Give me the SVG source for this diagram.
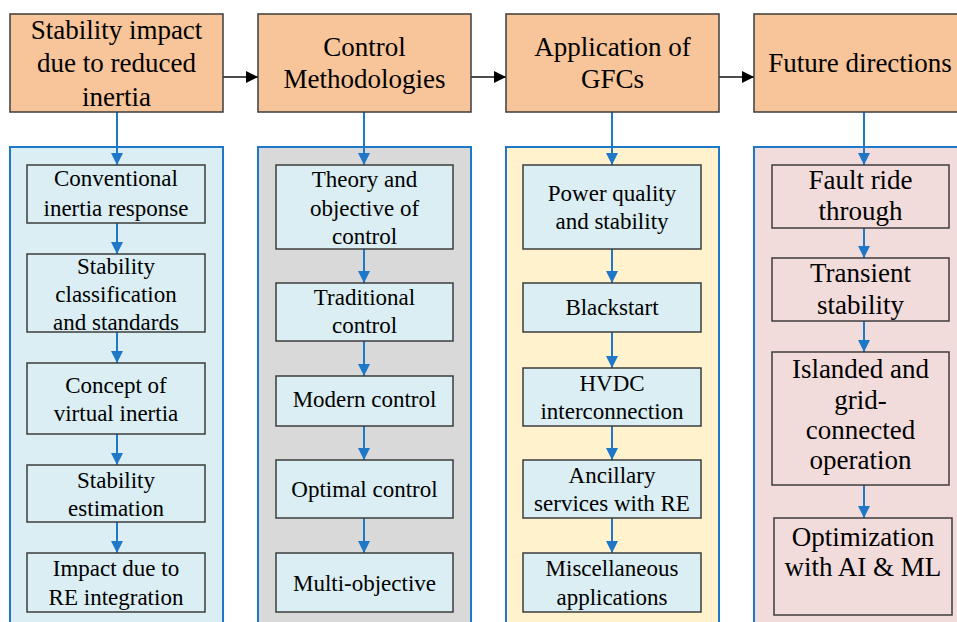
<svg xmlns="http://www.w3.org/2000/svg" width="957" height="622" viewBox="0 0 957 622" font-family="'Liberation Serif', 'Times New Roman', serif">
<defs>
<marker id="ab" viewBox="0 0 10 10" refX="10" refY="5" markerWidth="12" markerHeight="12" markerUnits="userSpaceOnUse" orient="auto"><path d="M0,0 L10,5 L0,10 z" fill="#1f77c8"/></marker>
<marker id="ak" viewBox="0 0 10 10" refX="10" refY="5" markerWidth="12" markerHeight="12" markerUnits="userSpaceOnUse" orient="auto"><path d="M0,0 L10,5 L0,10 z" fill="#000"/></marker>
</defs>
<style>
.title{fill:#f8c499;stroke:#3c3c3c;stroke-width:1.5}
.panel{stroke:#1f77c8;stroke-width:2}
.box{fill:#daeef3;stroke:#3c3c3c;stroke-width:1.5}
.pbox{fill:#f2dcdb;stroke:#3c3c3c;stroke-width:1.5}
text{font-family:'Liberation Serif', 'Times New Roman', serif;fill:#000;text-anchor:middle}
.t{font-size:27px}
.s{font-size:23px}
.b{font-size:27px}
.blue{stroke:#1f77c8;stroke-width:2;fill:none;marker-end:url(#ab)}
.blk{stroke:#111;stroke-width:1.5;fill:none;marker-end:url(#ak)}
</style>
<rect width="957" height="622" fill="#fff"/>
<g id="panels">
<rect class="panel" x="10" y="147" width="213" height="490" fill="#daeef3"/>
<rect class="panel" x="258" y="147" width="213" height="490" fill="#d9d9d9"/>
<rect class="panel" x="506" y="147" width="213" height="490" fill="#fff2cc"/>
<rect class="panel" x="754" y="147" width="213" height="490" fill="#f2dcdb"/>
</g>
<g id="connectors">
<line class="blk" x1="223" y1="77" x2="258" y2="77"/>
<line class="blk" x1="471" y1="77" x2="506" y2="77"/>
<line class="blk" x1="719" y1="77" x2="754" y2="77"/>
<line class="blue" x1="117" y1="112" x2="117" y2="165"/>
<line class="blue" x1="364" y1="112" x2="364" y2="165"/>
<line class="blue" x1="612" y1="112" x2="612" y2="165"/>
<line class="blue" x1="864" y1="112" x2="864" y2="165"/>
<line class="blue" x1="117" y1="223" x2="117" y2="254"/>
<line class="blue" x1="117" y1="332" x2="117" y2="363"/>
<line class="blue" x1="117" y1="434" x2="117" y2="465"/>
<line class="blue" x1="117" y1="522" x2="117" y2="553"/>
<line class="blue" x1="364" y1="249" x2="364" y2="283"/>
<line class="blue" x1="364" y1="341" x2="364" y2="376"/>
<line class="blue" x1="364" y1="426" x2="364" y2="460"/>
<line class="blue" x1="364" y1="518" x2="364" y2="553"/>
<line class="blue" x1="612" y1="249" x2="612" y2="283"/>
<line class="blue" x1="612" y1="332" x2="612" y2="368"/>
<line class="blue" x1="612" y1="426" x2="612" y2="460"/>
<line class="blue" x1="612" y1="518" x2="612" y2="553"/>
<line class="blue" x1="864" y1="228" x2="864" y2="258"/>
<line class="blue" x1="864" y1="321" x2="864" y2="352"/>
<line class="blue" x1="864" y1="485" x2="864" y2="518"/>
</g>
<g id="h1"><rect class="title" x="10" y="14" width="213" height="98"/><text class="t" x="116.5" y="39">Stability impact</text><text class="t" x="116.5" y="72">due to reduced</text><text class="t" x="116.5" y="106">inertia</text></g>
<g id="h2"><rect class="title" x="258" y="14" width="213" height="98"/><text class="t" x="364.5" y="56">Control</text><text class="t" x="364.5" y="88">Methodologies</text></g>
<g id="h3"><rect class="title" x="506" y="14" width="213" height="98"/><text class="t" x="612.5" y="56">Application of</text><text class="t" x="612.5" y="88">GFCs</text></g>
<g id="h4"><rect class="title" x="754" y="14" width="213" height="98"/><text class="t" x="860" y="72">Future directions</text></g>

<g id="a1"><rect class="box" x="27" y="165" width="178" height="58"/><text class="s" x="116" y="186">Conventional</text><text class="s" x="116" y="216">inertia response</text></g>
<g id="a2"><rect class="box" x="27" y="254" width="178" height="78"/><text class="s" x="116" y="274">Stability</text><text class="s" x="116" y="302">classification</text><text class="s" x="116" y="330">and standards</text></g>
<g id="a3"><rect class="box" x="27" y="363" width="178" height="71"/><text class="s" x="116" y="393">Concept of</text><text class="s" x="116" y="421">virtual inertia</text></g>
<g id="a4"><rect class="box" x="27" y="465" width="178" height="57"/><text class="s" x="116" y="488">Stability</text><text class="s" x="116" y="516">estimation</text></g>
<g id="a5"><rect class="box" x="27" y="553" width="178" height="59"/><text class="s" x="116" y="576">Impact due to</text><text class="s" x="116" y="605">RE integration</text></g>

<g id="b1"><rect class="box" x="276" y="165" width="177" height="84"/><text class="s" x="364.5" y="187">Theory and</text><text class="s" x="364.5" y="216">objective of</text><text class="s" x="364.5" y="244">control</text></g>
<g id="b2"><rect class="box" x="276" y="283" width="177" height="58"/><text class="s" x="364.5" y="305">Traditional</text><text class="s" x="364.5" y="333">control</text></g>
<g id="b3"><rect class="box" x="276" y="376" width="177" height="50"/><text class="s" x="364.5" y="407">Modern control</text></g>
<g id="b4"><rect class="box" x="276" y="460" width="177" height="58"/><text class="s" x="364.5" y="497">Optimal control</text></g>
<g id="b5"><rect class="box" x="276" y="553" width="177" height="59"/><text class="s" x="364.5" y="591">Multi-objective</text></g>

<g id="c1"><rect class="box" x="523" y="165" width="178" height="84"/><text class="s" x="612" y="201">Power quality</text><text class="s" x="612" y="229">and stability</text></g>
<g id="c2"><rect class="box" x="523" y="283" width="178" height="49"/><text class="s" x="612" y="315">Blackstart</text></g>
<g id="c3"><rect class="box" x="523" y="368" width="178" height="58"/><text class="s" x="612" y="391">HVDC</text><text class="s" x="612" y="419">interconnection</text></g>
<g id="c4"><rect class="box" x="523" y="460" width="178" height="58"/><text class="s" x="612" y="483">Ancillary</text><text class="s" x="612" y="511">services with RE</text></g>
<g id="c5"><rect class="box" x="523" y="553" width="178" height="59"/><text class="s" x="612" y="576">Miscellaneous</text><text class="s" x="612" y="605">applications</text></g>

<g id="d1"><rect class="pbox" x="772" y="165" width="177" height="63"/><text class="b" x="860.5" y="189">Fault ride</text><text class="b" x="860.5" y="220">through</text></g>
<g id="d2"><rect class="pbox" x="772" y="258" width="177" height="63"/><text class="b" x="860.5" y="282">Transient</text><text class="b" x="860.5" y="314">stability</text></g>
<g id="d3"><rect class="pbox" x="772" y="352" width="177" height="133"/><text class="b" x="860.5" y="378">Islanded and</text><text class="b" x="860.5" y="409">grid-</text><text class="b" x="860.5" y="439">connected</text><text class="b" x="860.5" y="469">operation</text></g>
<g id="d4"><rect class="pbox" x="774" y="518" width="178" height="97"/><text class="b" x="863" y="546">Optimization</text><text class="b" x="863" y="576">with AI &amp; ML</text></g>
</svg>
